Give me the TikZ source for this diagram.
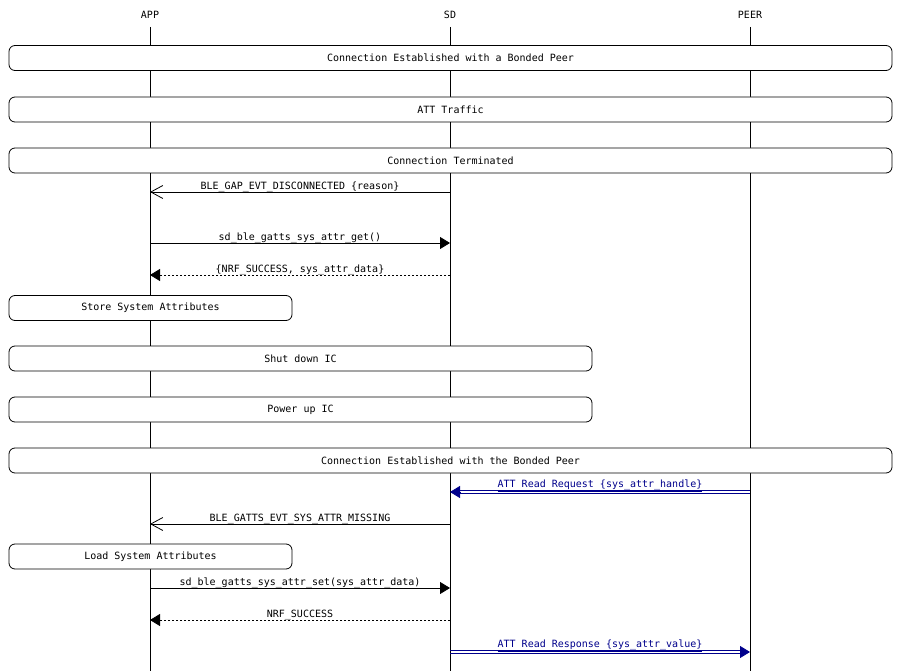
\documentclass[tikz,border=0pt]{standalone}
\usepackage{fontspec}
\setmonofont{DejaVu Sans Mono}
\usetikzlibrary{arrows.meta}
\definecolor{attblue}{RGB}{0,0,140}
\begin{document}
\begin{tikzpicture}[x=1pt,y=-1pt,
  font=\ttfamily\fontsize{10}{12}\selectfont,
  lifeline/.style={draw=black, line width=0.8pt},
  notebox/.style={draw, fill=white, rounded corners=6pt, line width=0.8pt, inner sep=0pt, minimum height=25pt},
  hdr/.style={inner sep=1pt},
  lbl/.style={anchor=base, midway, inner sep=0pt, yshift=2.5pt},
  callmsg/.style={draw, line width=0.8pt, -{Triangle[length=10pt,width=12pt]}},
  retmsg/.style={draw, line width=0.8pt, dash pattern=on 2pt off 2pt, -{Triangle[length=10pt,width=12pt]}},
  evtmsg/.style={draw, line width=0.8pt, -{Straight Barb[length=12pt,width=13pt,line width=0.8pt]}},
  attline/.style={draw=attblue, line width=0.8pt},
  atttip/.style={draw=attblue, fill=attblue, line width=0.8pt, -{Triangle[length=10pt,width=12pt]}},
  attlbl/.style={anchor=base, midway, inner sep=0pt, yshift=4.5pt, text=attblue}
]
\useasboundingbox (0,0) rectangle (900,671);
\fill[white] (0,0) rectangle (900,671);

% headers
\node[hdr] (app) at (150,14.5) {APP};
\node[hdr] (sd) at (450,14.5) {SD};
\node[hdr] (peer) at (750,14.5) {PEER};

% lifelines
\coordinate (appT) at (150,27); \coordinate (appB) at (150,671);
\coordinate (sdT) at (450,27); \coordinate (sdB) at (450,671);
\coordinate (peerT) at (750,27); \coordinate (peerB) at (750,671);
\draw[lifeline] (appT) -- (appB);
\draw[lifeline] (sdT) -- (sdB);
\draw[lifeline] (peerT) -- (peerB);

% boxes
\node[notebox, minimum width=883pt] (b1) at (450.5,58) {Connection Established with a Bonded Peer};
\node[notebox, minimum width=883pt] (b2) at (450.5,109.5) {ATT Traffic};
\node[notebox, minimum width=883pt] (b3) at (450.5,160.5) {Connection Terminated};
\node[notebox, minimum width=283pt] (b4) at (150.5,308) {Store System Attributes};
\node[notebox, minimum width=583pt] (b5) at (300.5,358.5) {Shut down IC};
\node[notebox, minimum width=583pt] (b6) at (300.5,409.5) {Power up IC};
\node[notebox, minimum width=883pt] (b7) at (450.5,460.5) {Connection Established with the Bonded Peer};
\node[notebox, minimum width=283pt] (b8) at (150.5,556.5) {Load System Attributes};

% message endpoints
\coordinate (m1s) at (450,192); \coordinate (m1e) at (150,192);
\coordinate (m2s) at (150,243); \coordinate (m2e) at (450,243);
\coordinate (m3s) at (450,275); \coordinate (m3e) at (150,275);
\coordinate (m4s) at (750,492); \coordinate (m4e) at (450,492);
\coordinate (m5s) at (450,524); \coordinate (m5e) at (150,524);
\coordinate (m6s) at (150,588); \coordinate (m6e) at (450,588);
\coordinate (m7s) at (450,620); \coordinate (m7e) at (150,620);
\coordinate (m8s) at (450,652); \coordinate (m8e) at (750,652);

\draw[evtmsg] (m1s) -- node[lbl] {BLE\_GAP\_EVT\_DISCONNECTED \{reason\}} (m1e);
\draw[callmsg] (m2s) -- node[lbl] {sd\_ble\_gatts\_sys\_attr\_get()} (m2e);
\draw[retmsg] (m3s) -- node[lbl] {\{NRF\_SUCCESS, sys\_attr\_data\}} (m3e);

% ATT Read Request (double line)
\draw[attline] ([yshift=1.2pt]m4s) -- ([yshift=1.2pt,xshift=9pt]m4e);
\draw[attline] ([yshift=-1.2pt]m4s) -- ([yshift=-1.2pt,xshift=9pt]m4e);
\draw[atttip] ([xshift=10pt]m4e) -- (m4e);
\path (m4s) -- node[attlbl] {\underline{ATT Read Request \{sys\_attr\_handle\}}} (m4e);

\draw[evtmsg] (m5s) -- node[lbl] {BLE\_GATTS\_EVT\_SYS\_ATTR\_MISSING} (m5e);
\draw[callmsg] (m6s) -- node[lbl] {sd\_ble\_gatts\_sys\_attr\_set(sys\_attr\_data)} (m6e);
\draw[retmsg] (m7s) -- node[lbl] {NRF\_SUCCESS} (m7e);

% ATT Read Response (double line)
\draw[attline] ([yshift=1.2pt]m8s) -- ([yshift=1.2pt,xshift=-9pt]m8e);
\draw[attline] ([yshift=-1.2pt]m8s) -- ([yshift=-1.2pt,xshift=-9pt]m8e);
\draw[atttip] ([xshift=-10pt]m8e) -- (m8e);
\path (m8s) -- node[attlbl] {\underline{ATT Read Response \{sys\_attr\_value\}}} (m8e);
\end{tikzpicture}
\end{document}
